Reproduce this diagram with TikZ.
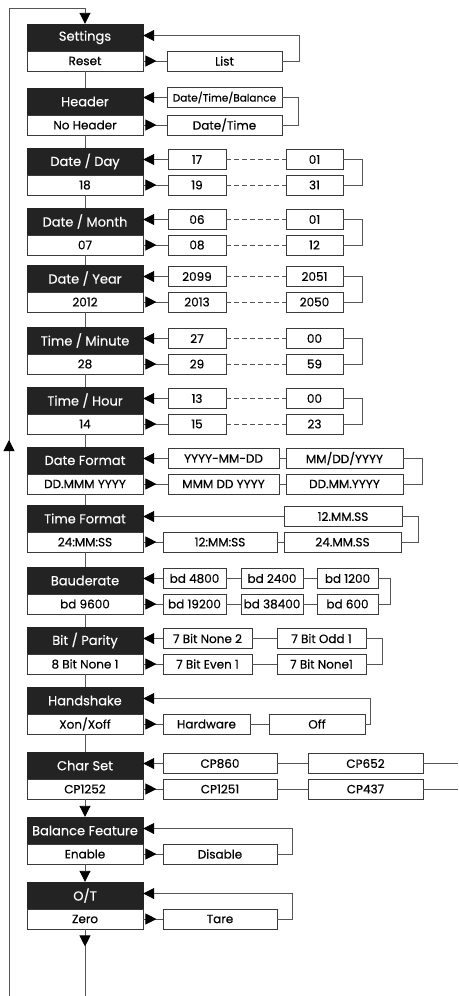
\documentclass[tikz,border=0pt]{standalone}
\usepackage{fontspec}
\setmainfont{Poppins}[FakeBold=0.4]
\usetikzlibrary{arrows.meta}
\definecolor{dk}{HTML}{232323}
\definecolor{bd}{HTML}{3A3A3A}
\definecolor{lnc}{HTML}{555555}
\newcommand\MBox[4]{%
  \node[darkbox] (#1t) at (85,#2+13.5) {#3};
  \node[lightbox] (#1b) at (85,#2+37) {#4};}
\newcommand\RBox[5]{%
  \pgfmathsetmacro\rbw{#3-#2}\pgfmathsetmacro\rbc{(#2+#3)/2}%
  \node[rbox,minimum width=\rbw pt] (#1) at (\rbc,#4) {#5};}
\newcommand\ArrIn[2]{\draw[tip] (#1.west) -- (#1.west -| #2.east);}
\newcommand\ArrOut[2]{\draw[conn] (#1.east) -- (#2.west); \draw[tip] (#1.east) -- ++(13,0);}
\newcommand\DSec[6]{%
  \pgfmathsetmacro\uy{#2+11.5}\pgfmathsetmacro\ly{#2+37}%
  \RBox{#1U1}{168}{226}{\uy}{#3}\RBox{#1U2}{286}{343}{\uy}{#4}%
  \RBox{#1L1}{168}{226}{\ly}{#5}\RBox{#1L2}{286}{343}{\ly}{#6}%
  \draw[dconn] (#1U1) -- (#1U2);
  \draw[dconn] (#1L1) -- (#1L2);
  \draw[conn] (#1U2.east) -- ++(19,0) |- (#1L2.east);
  \ArrIn{#1U1}{#1t}
  \ArrOut{#1b}{#1L1}}
\begin{document}
\begin{tikzpicture}[x=1pt,y=-1pt,
  darkbox/.style={fill=dk,draw=dk,text=white,minimum width=116pt,minimum height=27pt,inner sep=0pt,font=\fontsize{13}{15}\selectfont},
  lightbox/.style={fill=white,draw=bd,line width=0.9pt,minimum width=116pt,minimum height=20pt,inner sep=0pt,font=\fontsize{12}{14}\selectfont},
  rbox/.style={fill=white,draw=bd,line width=0.9pt,minimum height=20pt,inner sep=0pt,font=\fontsize{12}{14}\selectfont},
  conn/.style={draw=lnc,line width=0.9pt},
  dconn/.style={conn,dash pattern=on 5pt off 3pt},
  tip/.style={conn,-{Triangle[length=11pt,width=11pt,color=black]}},
 ]
\useasboundingbox (0,0) rectangle (458,996);
% main column
\MBox{a}{24}{Settings}{Reset}
\MBox{b}{88}{Header}{No Header}
\MBox{c}{148}{Date / Day}{18}
\MBox{d}{208}{Date / Month}{07}
\MBox{e}{265}{Date / Year}{2012}
\MBox{f}{327}{Time / Minute}{28}
\MBox{g}{387}{Time / Hour}{14}
\MBox{h}{447}{Date Format}{DD.MMM YYYY}
\MBox{i}{505}{Time Format}{24:MM:SS}
\MBox{j}{567}{Bauderate}{bd 9600}
\MBox{k}{627}{Bit / Parity}{8 Bit None 1}
\MBox{l}{687}{Handshake}{Xon/Xoff}
\MBox{m}{752}{Char Set}{CP1252}
\MBox{n}{817}{Balance Feature}{Enable}
\MBox{o}{882}{O/T}{Zero}
\draw[conn] (ab) -- (bt);
\draw[conn] (bb) -- (ct);
\draw[conn] (cb) -- (dt);
\draw[conn] (db) -- (et);
\draw[conn] (eb) -- (ft);
\draw[conn] (fb) -- (gt);
\draw[conn] (gb) -- (ht);
\draw[conn] (hb) -- (it);
\draw[conn] (ib) -- (jt);
\draw[conn] (jb) -- (kt);
\draw[conn] (kb) -- (lt);
\draw[conn] (lb) -- (mt);
\draw[tip] (mb) -- (nt);
\draw[tip] (nb) -- (ot);
% outer loop
\coordinate (tl) at (9,8);
\coordinate (tm) at (85,8);
\coordinate (bl) at (9,996);
\coordinate (bm) at (85,996);
\coordinate (up1) at (9,451);
\coordinate (up2) at (9,440);
\draw[conn] (bl) -- (tl) -- (tm);
\draw[tip] (tm) -- (at.north);
\draw[tip] (up1) -- (up2);
\draw[conn] (ob.south) -- (bm);
\draw[tip] (ob.south) -- ++(0,17);
% Settings
\RBox{aL}{167}{282}{61}{List}
\ArrOut{ab}{aL}
\coordinate (aC) at (299,35.5);
\draw[tip] (aL.east) -| (aC) -- (aC -| at.east);
% Header
\RBox{bU}{167}{282}{97.5}{\fontsize{10.5}{12}\selectfont Date/Time/Balance}
\RBox{bL}{167}{282}{125}{Date/Time}
\ArrIn{bU}{bt}
\ArrOut{bb}{bL}
\draw[conn] (bU.east) -- ++(16,0) |- (bL.east);
% Date / Time values
\DSec{c}{148}{17}{01}{19}{31}
\DSec{d}{208}{06}{01}{08}{12}
\DSec{e}{265}{2099}{2051}{2013}{2050}
\DSec{f}{327}{27}{00}{29}{59}
\DSec{g}{387}{13}{00}{15}{23}
% Date Format
\RBox{hU1}{168}{279}{458.5}{YYYY-MM-DD}
\RBox{hU2}{286}{403}{458.5}{MM/DD/YYYY}
\RBox{hL1}{168}{279}{484}{MMM DD YYYY}
\RBox{hL2}{286}{403}{484}{DD.MM.YYYY}
\draw[conn] (hU1) -- (hU2);
\draw[conn] (hL1) -- (hL2);
\draw[conn] (hU2.east) -- ++(19,0) |- (hL2.east);
\ArrIn{hU1}{ht}
\ArrOut{hb}{hL1}
% Time Format
\RBox{iU}{284}{402}{516.5}{12.MM.SS}
\RBox{iL1}{163}{277}{542}{12:MM:SS}
\RBox{iL2}{284}{401}{542}{24.MM.SS}
\draw[conn] (iL1) -- (iL2);
\draw[conn] (iU.east) -- ++(16,0) |- (iL2.east);
\ArrIn{iU}{it}
\ArrOut{ib}{iL1}
% Bauderate
\RBox{jU1}{163}{226}{578.5}{bd 4800}
\RBox{jU2}{241}{303}{578.5}{bd 2400}
\RBox{jU3}{317}{378}{578.5}{bd 1200}
\RBox{jL1}{163}{226}{604}{bd 19200}
\RBox{jL2}{241}{303}{604}{bd 38400}
\RBox{jL3}{317}{378}{604}{bd 600}
\draw[conn] (jU1) -- (jU2);
\draw[conn] (jU2) -- (jU3);
\draw[conn] (jL1) -- (jL2);
\draw[conn] (jL2) -- (jL3);
\draw[conn] (jU3.east) -- ++(12,0) |- (jL3.east);
\ArrIn{jU1}{jt}
\ArrOut{jb}{jL1}
% Bit / Parity
\RBox{kU1}{163}{252}{638.5}{7 Bit None 2}
\RBox{kU2}{277}{366}{638.5}{7 Bit Odd 1}
\RBox{kL1}{163}{252}{664}{7 Bit Even 1}
\RBox{kL2}{277}{366}{664}{7 Bit None1}
\draw[conn] (kU1) -- (kU2);
\draw[conn] (kL1) -- (kL2);
\draw[conn] (kU2.east) -- ++(16,0) |- (kL2.east);
\ArrIn{kU1}{kt}
\ArrOut{kb}{kL1}
% Handshake
\RBox{lL1}{163}{250}{724}{Hardware}
\RBox{lL2}{269}{365}{724}{Off}
\draw[conn] (lL1) -- (lL2);
\ArrOut{lb}{lL1}
\coordinate (lC) at (370,698.5);
\draw[tip] (lL2.east) -| (lC) -- (lC -| lt.east);
% Char Set
\RBox{mU1}{163}{277}{763.5}{CP860}
\RBox{mU2}{308}{423}{763.5}{CP652}
\RBox{mL1}{163}{277}{789}{CP1251}
\RBox{mL2}{308}{423}{789}{CP437}
\coordinate (mUe) at (458,763.5);
\coordinate (mLe) at (458,789);
\draw[conn] (mU1) -- (mU2);
\draw[conn] (mL1) -- (mL2);
\draw[conn] (mU2.east) -- (mUe);
\draw[conn] (mL2.east) -- (mLe);
\ArrIn{mU1}{mt}
\ArrOut{mb}{mL1}
% Balance Feature
\RBox{nL}{163}{277}{854}{Disable}
\ArrOut{nb}{nL}
\coordinate (nC) at (292,828.5);
\draw[tip] (nL.east) -| (nC) -- (nC -| nt.east);
% O/T
\RBox{oL}{163}{277}{919}{Tare}
\ArrOut{ob}{oL}
\coordinate (oC) at (292,893.5);
\draw[tip] (oL.east) -| (oC) -- (oC -| ot.east);
\end{tikzpicture}
\end{document}
